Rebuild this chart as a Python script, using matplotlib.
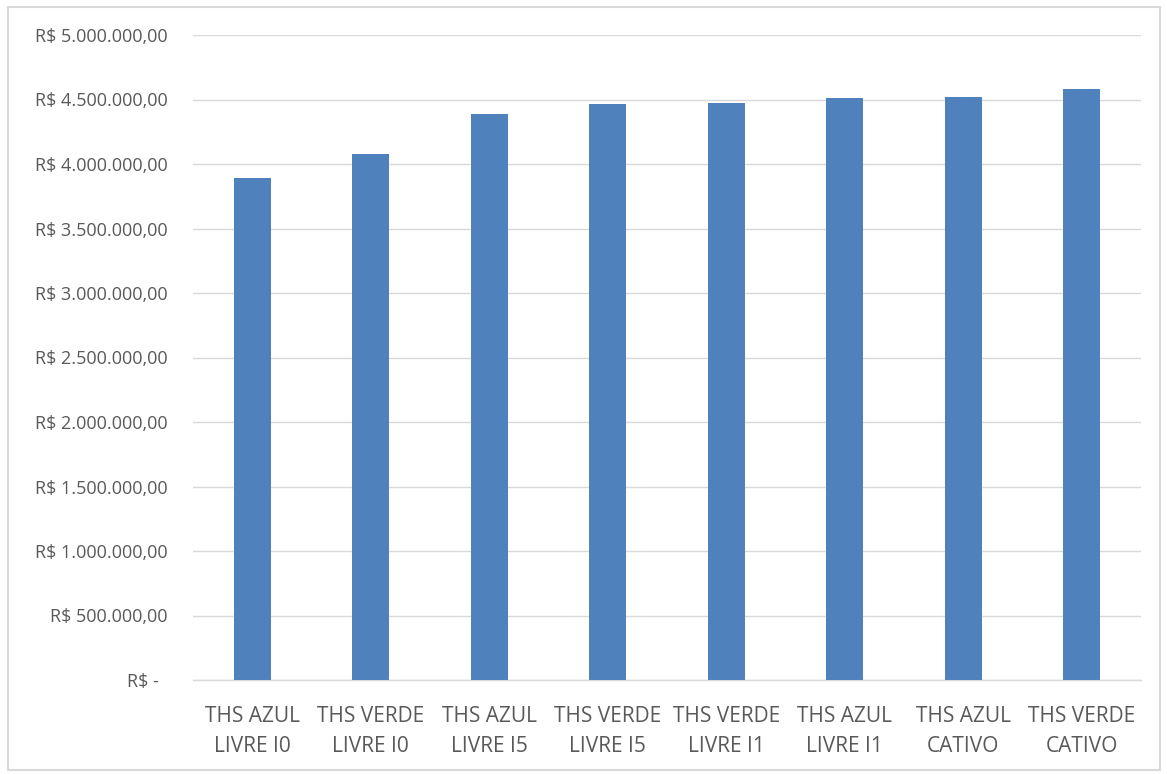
import matplotlib
matplotlib.use("Agg")
import matplotlib.pyplot as plt
from matplotlib.patches import Rectangle
from matplotlib.ticker import FuncFormatter

categories = ["THS AZUL\nLIVRE I0", "THS VERDE\nLIVRE I0", "THS AZUL\nLIVRE I5", "THS VERDE\nLIVRE I5",
              "THS VERDE\nLIVRE I1", "THS AZUL\nLIVRE I1", "THS AZUL\nCATIVO", "THS VERDE\nCATIVO"]
values = [3890000, 4080000, 4390000, 4465000, 4472000, 4508000, 4518000, 4580000]
yticks = [0, 500000, 1000000, 1500000, 2000000, 2500000, 3000000, 3500000, 4000000, 4500000, 5000000]

plt.rcParams['font.family'] = ['Open Sans', 'DejaVu Sans']

W, H = 1167, 774
fig = plt.figure(figsize=(W / 100, H / 100), dpi=100)
fig.patch.set_facecolor("white")

# outer chart border
fig.add_artist(Rectangle((8 / W, 1 - 770 / H), (1160 - 8) / W, (770 - 7) / H,
                         transform=fig.transFigure, fill=False, edgecolor="#d9d9d9", lw=1.5))

left, right, top, bottom = 193, 1141, 35, 680
ax = fig.add_axes([left / W, 1 - bottom / H, (right - left) / W, (bottom - top) / H])

x = list(range(len(categories)))
ax.bar(x, values, width=0.31, color="#4f81bd", zorder=3)
ax.set_xlim(-0.5, len(categories) - 0.5)
ax.set_ylim(0, 5000000)
ax.set_yticks(yticks)


def fmt(v, pos):
    if v == 0:
        return "R$ -  "
    s = f"{v:,.2f}".replace(",", "X").replace(".", ",").replace("X", ".")
    return "R$ " + s


ax.yaxis.set_major_formatter(FuncFormatter(fmt))
ax.grid(axis="y", color="#d9d9d9", lw=1, zorder=0)
for s in ["top", "right", "left"]:
    ax.spines[s].set_visible(False)
ax.spines["bottom"].set_color("#d9d9d9")
ax.spines["bottom"].set_linewidth(1)
ax.spines["bottom"].set_zorder(1)
ax.tick_params(axis="both", length=0, colors="#595959")
ax.tick_params(axis="y", labelsize=13, pad=18)
ax.set_xticks(x)
ax.set_xticklabels(categories, fontsize=15, color="#595959", linespacing=1.55)
ax.tick_params(axis="x", pad=19)

fig.savefig("out.png", dpi=100, facecolor="white")
